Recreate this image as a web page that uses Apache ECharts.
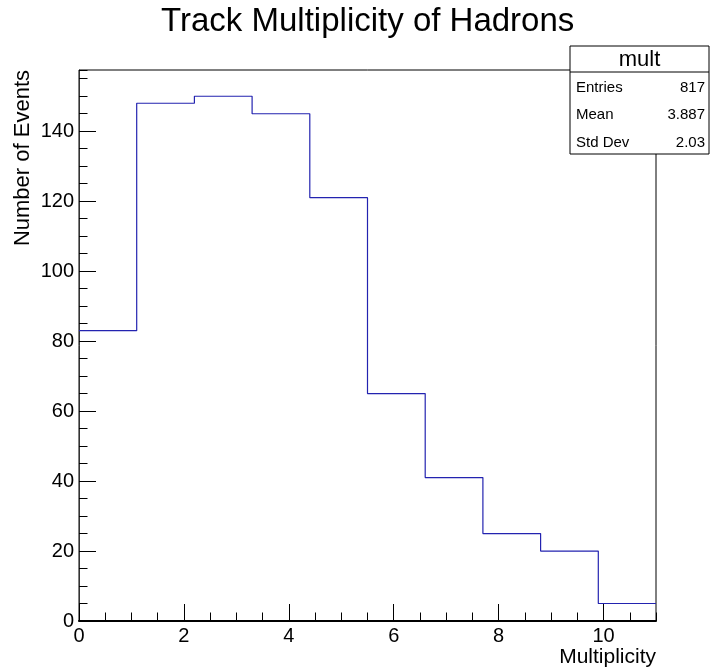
<!DOCTYPE html>
<html>
<head>
<meta charset="utf-8">
<script src="https://cdn.jsdelivr.net/npm/echarts@6/dist/echarts.min.js"></script>
<style>html,body{margin:0;padding:0;background:#fff;}#c{width:710px;height:670px;}</style>
</head>
<body>
<div id="c"></div>
<script>
// Histogram data (10 bins from 0 to 11)
var binEdges = [0, 1.1, 2.2, 3.3, 4.4, 5.5, 6.6, 7.7, 8.8, 9.9, 11];
var counts = [83, 148, 150, 145, 121, 65, 41, 25, 20, 5];
var statsName = 'mult';
var statsLabels = ['Entries', 'Mean', 'Std Dev'];
var statsValues = ['817', '3.887', '2.03'];
var titleText = 'Track Multiplicity of Hadrons';
var xTitle = 'Multiplicity';
var yTitle = 'Number of Events';

var FONT = 'Liberation Sans, Arial, Helvetica, sans-serif';

// step line points: left edge of each bin, plus final right edge
var stepData = [];
for (var i = 0; i < counts.length; i++) stepData.push([binEdges[i], counts[i]]);
stepData.push([binEdges[binEdges.length - 1], counts[counts.length - 1]]);

var G = {left: 79, top: 70, right: 54, bottom: 49};
var yMax = 157.5;

var chart = echarts.init(document.getElementById('c'), null, {renderer: 'canvas'});

var statsGraphics = [];
var bx = 570, by = 46, bw = 139, bh = 108;
statsGraphics.push({type: 'rect', shape: {x: bx, y: by, width: bw, height: bh}, style: {fill: '#fff', stroke: '#000', lineWidth: 1}, z: 100});
statsGraphics.push({type: 'line', shape: {x1: bx, y1: 72, x2: bx + bw, y2: 72}, style: {stroke: '#000', lineWidth: 1}, z: 101});
statsGraphics.push({type: 'text', x: bx + bw / 2, y: 60, style: {text: statsName, font: '22px ' + FONT, fill: '#000', align: 'center', verticalAlign: 'middle'}, z: 101});
var rowY = [88, 115, 143];
for (var k = 0; k < statsLabels.length; k++) {
  statsGraphics.push({type: 'text', x: bx + 6, y: rowY[k], style: {text: statsLabels[k], font: '15px ' + FONT, fill: '#000', align: 'left', verticalAlign: 'middle'}, z: 101});
  statsGraphics.push({type: 'text', x: bx + bw - 4, y: rowY[k], style: {text: statsValues[k], font: '15px ' + FONT, fill: '#000', align: 'right', verticalAlign: 'middle'}, z: 101});
}

var option = {
  animation: false,
  backgroundColor: '#fff',
  grid: {left: G.left, top: G.top, right: G.right, bottom: G.bottom, show: true, borderColor: '#000', borderWidth: 1, backgroundColor: 'transparent'},
  xAxis: [
    {type: 'value', min: 0, max: 11, interval: 2, position: 'bottom',
     axisLine: {show: true, lineStyle: {color: '#000', width: 2}},
     axisTick: {show: true, inside: true, length: 17, lineStyle: {color: '#000', width: 1}},
     axisLabel: {show: true, fontSize: 20, fontFamily: FONT, color: '#000', margin: 5, showMaxLabel: false},
     splitLine: {show: false}},
    {type: 'value', min: 0, max: 11, interval: 0.5, position: 'bottom',
     axisLine: {show: false},
     axisTick: {show: true, inside: true, length: 8.5, lineStyle: {color: '#000', width: 1}},
     axisLabel: {show: false},
     splitLine: {show: false}}
  ],
  yAxis: [
    {type: 'value', min: 0, max: yMax, interval: 20, position: 'left',
     axisLine: {show: true, lineStyle: {color: '#333', width: 1}},
     axisTick: {show: true, inside: true, length: 17, lineStyle: {color: '#000', width: 1}},
     axisLabel: {show: true, fontSize: 20, fontFamily: FONT, color: '#000', margin: 5, showMaxLabel: false},
     splitLine: {show: false}},
    {type: 'value', min: 0, max: yMax, interval: 5, position: 'left',
     axisLine: {show: false},
     axisTick: {show: true, inside: true, length: 8.5, lineStyle: {color: '#000', width: 1}},
     axisLabel: {show: false},
     splitLine: {show: false}}
  ],
  series: [{
    type: 'line', xAxisIndex: 0, yAxisIndex: 0,
    step: 'end', data: stepData, showSymbol: false, symbol: 'none',
    lineStyle: {color: '#2323b0', width: 1.2}, z: 5
  }],
  graphic: [
    {type: 'text', x: 367.7, y: 22, style: {text: titleText, font: '33px ' + FONT, fill: '#000', align: 'center', verticalAlign: 'middle'}},
    {type: 'text', x: 23, y: 70, rotation: Math.PI / 2, style: {text: yTitle, font: '22px ' + FONT, fill: '#000', align: 'right', verticalAlign: 'middle'}},
    {type: 'text', x: 656, y: 657, style: {text: xTitle, font: '21px ' + FONT, fill: '#000', align: 'right', verticalAlign: 'middle'}}
  ].concat(statsGraphics)
};
chart.setOption(option);
</script>
</body>
</html>
